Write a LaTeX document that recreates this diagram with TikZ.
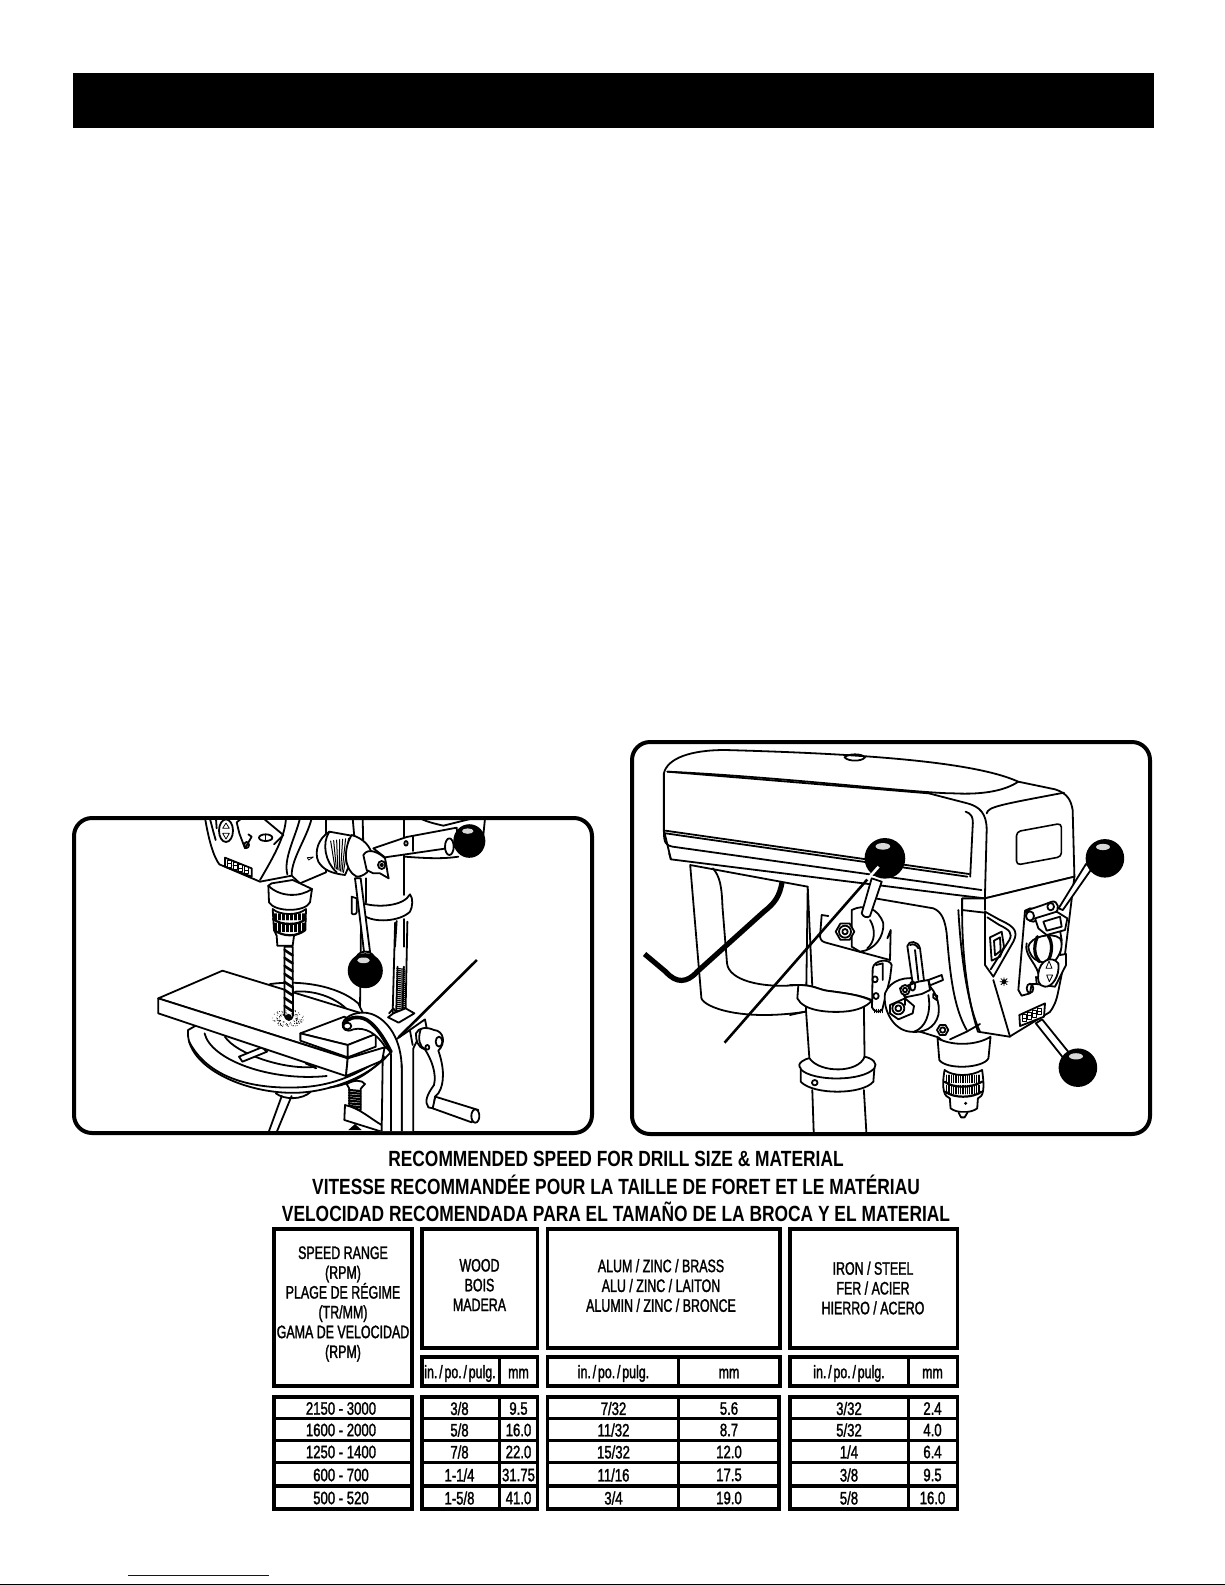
\documentclass[tikz,border=0pt]{standalone}
\usepackage{fontspec}
\setmainfont[FakeStretch=0.69,FakeBold=1.5]{Liberation Sans}
\newfontfamily\datafont[FakeStretch=0.73,FakeBold=1.5]{Liberation Sans}
\newfontfamily\titlefont[FakeStretch=0.79]{Liberation Sans Bold}
\tikzset{
  frameline/.style={line width=1.75pt,fill=white},
  dividerline/.style={line width=1.75pt},
  panelbox/.style={line width=2pt,rounded corners=9pt,fill=white},
  artline/.style={line width=0.9pt,line join=round,line cap=round},
  leaderline/.style={line width=1.3pt,line cap=butt},
  cell/.style={inner sep=0pt,font=\fontsize{9}{9.9}\selectfont,align=center},
  datacell/.style={inner sep=0pt,font=\datafont\fontsize{9}{9.9}\selectfont},
  titletext/.style={inner sep=0pt,font=\titlefont\fontsize{11}{12}\selectfont},
  hatch/.style={line width=0.4pt},
  knob/.style={fill=black},
  shine/.style={fill=white}
}
\newcommand{\knobat}[3]{%
  \fill[knob] (#1,#2) circle [x radius=#3,y radius=#3*1.05];
  \fill[shine,opacity=.85] (#1-#3*.1,#2-#3*.62) circle [x radius=#3*.36,y radius=#3*.17];
}
\newcommand{\hexnut}[3]{%
  \draw[fill=white] (#1+#3,#2)--(#1+.5*#3,#2-.866*#3)--(#1-.5*#3,#2-.866*#3)--(#1-#3,#2)--(#1-.5*#3,#2+.866*#3)--(#1+.5*#3,#2+.866*#3)--cycle;
}
\newcommand{\inpo}{in.\hspace{.9pt}/\hspace{.9pt}po.\hspace{.9pt}/\hspace{.9pt}pulg.}
\begin{document}
\begin{tikzpicture}[x=0.5pt,y=-0.5pt]
\useasboundingbox (0,0) rectangle (1225,1585);
\fill[white] (0,0) rectangle (1225,1585);
\fill[black] (73,73) rectangle (1153.5,128);
\draw[color=blue!75!black,line width=0.5pt] (128,1575) -- (269,1575);
\draw[black,line width=1pt] (0,1584.5) -- (1225,1584.5);

% ---------- left panel ----------
\draw[panelbox] (74,818) rectangle (592,1133);
\begin{scope}
\clip[rounded corners=8pt] (76,820) rectangle (590,1131);
% column, collar, head, chuck: crop coordinates (200,815)
\begin{scope}[shift={(200,815)},x=0.16667pt,y=-0.16667pt,artline]
 \draw (612,10)--(612,240);
 \draw (497,190)--(497,262);
 \draw (497,320)--(497,395);
 \draw (612,312)--(612,395);
 \draw (590,318)--(585,395);
 \draw[fill=white] (455,245) -- (455,295) .. controls (458,300) and (470,298) .. (470,292) -- (470,250) -- cycle;
 \draw[fill=white] (490,265) .. controls (530,278) and (610,275) .. (630,238) .. controls (640,250) and (638,275) .. (630,290) .. controls (600,320) and (520,325) .. (490,300) -- cycle;
 \draw (660,10) .. controls (680,20) and (700,25) .. (730,32) -- (810,12);
 \draw (855,10)--(850,60);
 \draw (615,125) .. controls (680,130) and (730,132) .. (775,125);
 % head
 \draw[fill=white] (15,8) .. controls (25,70) and (40,125) .. (58,148) -- (180,200) -- (275,182) -- (300,205) -- (378,172) -- (378,8) -- cycle;
 \draw (300,10) .. controls (285,70) and (250,130) .. (262,178);
 \draw (335,10) .. controls (320,70) and (275,130) .. (275,180);
 \draw (180,195) .. controls (230,110) and (255,60) .. (258,10);
 \draw (190,10) -- (250,60) -- (222,88);
 \draw (30,12) -- (40,50) -- (47,75);
 \draw (48,12) -- (50,40);
 \draw (125,10) -- (110,22) -- (118,55) -- (135,100) -- (155,65) -- (145,58);
 \draw (140,90) circle [x radius=7,y radius=9];
 \draw (78,47) circle [x radius=21,y radius=34];
 \draw[hatch] (68,40)--(78,24)--(88,40)--cycle (68,55)--(88,55)--(78,72)--cycle;
 \draw (197,68) circle [x radius=20,y radius=10];
 \draw[hatch] (197,58)--(197,78);
 \draw[line width=.9pt] (75,128)--(155,160)--(155,185)--(75,155)--cycle;
 \foreach \dd in {0,1,2,3} {\draw[hatch] (82+\dd*17,136+\dd*6.5) rectangle +(12,20);\draw[hatch] (82+\dd*17,146+\dd*6.5) -- +(12,0);}
 \draw[hatch] (322,128)--(340,126)--(326,135)--cycle;
 % chuck
 \draw[fill=white] (205,212) -- (207,262) .. controls (225,292) and (315,292) .. (330,262) -- (336,222) -- (300,205) -- (278,195) -- (215,205) -- cycle;
 \draw (205,212) .. controls (240,247) and (300,247) .. (336,222);
 \draw[fill=white] (218,282) -- (222,345) -- (230,362) -- (232,392) -- (278,392) -- (282,362) -- (316,345) -- (318,282) .. controls (295,302) and (240,302) .. (218,282) -- cycle;
 \foreach \xx in {222,226,...,314} {\draw[hatch] (\xx,296)--(\xx,315) (\xx,324)--(\xx,350);}
 \draw[line width=1.1pt] (219,312) .. controls (245,332) and (295,332) .. (317,312);
 \draw[line width=1.1pt] (222,345) .. controls (250,366) and (290,366) .. (316,345);
\end{scope}
% table, board, bit: crop coordinates (60,800)
\begin{scope}[shift={(60,800)},x=0.17544pt,y=-0.16667pt,artline]
 \draw[fill=white] (938,640) -- (950,625) -- (960,640);
 \foreach \yy in {505,511,...,637} {\draw[hatch,line width=.6pt] (960,\yy)--(982,\yy+3);}
 \draw (962,500)--(958,640);
 \draw (980,500)--(976,640);
 \draw (955,368)--(948,640);
 \draw (990,365)--(985,625);
 \draw (858,360)--(855,625);
 \draw[fill=white] (935,652) -- (950,640) -- (985,625) -- (1010,640) -- (965,668) -- cycle;
 % chuck nose and table
 \draw (595,995)--(632,888);
 \draw (618,995)--(660,888);
 \draw (615,880) .. controls (640,900) and (690,900) .. (715,875);
 \draw[fill=white] (365,690) .. controls (355,800) and (530,885) .. (680,878) .. controls (780,873) and (880,825) .. (925,775) -- (850,610) .. controls (790,555) and (680,540) .. (600,552) -- cycle;
 \draw (368,725) .. controls (420,830) and (540,868) .. (680,862) .. controls (790,858) and (870,810) .. (920,770);
 \draw (412,700) .. controls (430,780) and (600,845) .. (760,828);
 \draw (470,710) .. controls (500,760) and (640,812) .. (730,800);
 \draw[fill=white] (510,770)--(575,742)--(590,755)--(520,785)--cycle;
 \draw (670,575) .. controls (720,570) and (780,590) .. (815,625);
 \draw (700,790) -- (730,805);
 % board
 \draw[fill=white] (280,595)--(463,512)--(860,640)--(930,742)--(820,775)--cycle;
 \draw[fill=white] (280,595)--(280,640)--(815,828)--(820,775)--cycle;
 \draw[fill=white] (820,775)--(925,742)--(918,782)--(815,828)--cycle;
 % drill bit
 \draw[fill=white] (640,440)--(640,645) .. controls (645,665) and (660,665) .. (664,645) -- (663,440)--cycle;
 \foreach \yy in {450,474,...,630} {\draw[line width=1.3pt] (640,\yy)--(663,\yy+16);}
 \fill (651,650) circle [x radius=9,y radius=8];
 \pgfmathsetseed{7}
 \foreach \k in {1,...,110} {
   \pgfmathsetmacro{\ang}{rnd*360}\pgfmathsetmacro{\rr}{0.45+0.55*rnd}
   \fill (650+46*\rr*cos \ang,655+26*\rr*sin \ang) circle [x radius=1.4,y radius=1.4];
 }
 % wood block
 \draw[fill=white] (685,700)--(810,650)--(905,700)--(820,735)--cycle;
 \draw[fill=white] (685,700)--(685,722)--(820,772)--(820,735)--cycle;
 \draw[fill=white] (820,735)--(900,702)--(900,740)--(820,772)--cycle;
\end{scope}
% clamp and crank: crop coordinates (330,990)
\begin{scope}[shift={(330,990)},x=0.16667pt,y=-0.16667pt,artline]
 % screw
 \draw[fill=white] (50,282) .. controls (70,270) and (95,268) .. (105,282) -- (92,296) -- (92,360) -- (58,350) -- (58,296) -- cycle;
 \foreach \yy in {300,308,...,352} {\draw[line width=1.1pt] (57,\yy)--(91,\yy+3);}
 \draw[fill=white] (45,345) -- (43,390) -- (155,425) -- (155,405) .. controls (120,385) and (90,355) .. (45,345) -- cycle;
 \fill (55,420) -- (75,402) -- (95,420) -- cycle;
 % bracket
 \draw[fill=white] (215,430) -- (215,225) -- (195,150) -- (225,130) -- (285,88) -- (292,125) -- (262,150) -- (250,175) -- (250,430) -- cycle;
 \draw (240,122) -- (248,165);
 % crank
 \draw[fill=white] (258,130) .. controls (265,112) and (290,110) .. (312,120) .. controls (342,122) and (348,160) .. (325,182) .. controls (342,230) and (345,280) .. (325,310) -- (315,320) -- (310,355) -- (295,352) .. controls (282,335) and (292,312) .. (312,285) .. controls (320,250) and (305,210) .. (285,178) .. controls (260,170) and (258,150) .. (258,130) -- cycle;
 \draw (272,118) .. controls (262,150) and (270,170) .. (285,178);
 \draw (327,155) circle [x radius=10,y radius=15];
 \draw (292,172) circle [x radius=6,y radius=7];
 \draw[fill=white] (316,320)--(445,360)--(425,397)--(308,355)--cycle;
 \draw[fill=white] (436,378) circle [x radius=12,y radius=20];
 % clamp
 \draw[fill=white] (155,430) -- (158,212) -- (183,186) -- (165,170) .. controls (140,130) and (105,110) .. (70,118) .. controls (50,128) and (35,118) .. (38,100) .. controls (45,75) and (90,60) .. (125,72) .. controls (175,90) and (215,150) .. (215,235) -- (215,430) -- cycle;
 \draw (182,192) -- (182,430);
 \draw[line width=1.8pt] (42,100) .. controls (52,85) and (75,78) .. (100,85) .. controls (130,95) and (160,140) .. (183,186);
 \draw[fill=white] (52,108) circle [x radius=12,y radius=10];
 \draw (0,292) .. controls (60,285) and (120,250) .. (160,205);
\end{scope}
% hub and levers: crop coordinates (200,815)
\begin{scope}[shift={(200,815)},x=0.16667pt,y=-0.16667pt,artline]
 \draw (458,10)--(466,100);
 \draw (488,10)--(490,100);
 \draw[fill=white] (465,190)--(492,410)--(510,410)--(482,190)--cycle;
 % drum
 \draw[fill=white] (388,50) .. controls (355,70) and (342,110) .. (355,140) .. controls (370,165) and (395,175) .. (435,180) -- (470,100) -- (455,62) -- cycle;
 \foreach \aa in {0,14,...,90} {\draw[hatch,line width=.5pt] (392+\aa*.64,78-\aa*.1) -- (405+\aa*.3,160+\aa*.15);}
 \draw (388,50) .. controls (365,85) and (375,140) .. (410,172);
 \draw[fill=white] (455,60) .. controls (430,100) and (430,165) .. (470,185) .. controls (490,185) and (515,170) .. (518,130) .. controls (515,95) and (490,70) .. (455,60) -- cycle;
 % upper lever
 \draw[fill=white] (520,100)--(620,66)--(770,38)--(775,95)--(555,127)--cycle;
 \draw (640,65)--(640,108);
 \draw (618,85) circle [x radius=5,y radius=7];
 \draw[fill=white] (748,95) circle [x radius=13,y radius=25];
 \draw[fill=white] (490,120) .. controls (505,95) and (540,115) .. (555,130) .. controls (560,150) and (562,175) .. (566,190) -- (540,175) -- (520,175) -- (500,165) -- cycle;
 \draw[fill=white] (545,150) circle [x radius=11,y radius=12];
 \draw (545,150) circle [x radius=4,y radius=4];
 \knobat{808}{78}{48}
\end{scope}
\begin{scope}[shift={(60,800)},x=0.17544pt,y=-0.16667pt,artline]
 \draw[fill=white] (845,470) .. controls (855,450) and (885,450) .. (895,470) -- (885,490) -- (855,490) -- cycle;
 \knobat{870}{512}{50}
 \draw[leaderline] (1188,480) -- (965,712);
\end{scope}
\end{scope}

% ---------- right panel ----------
\draw[panelbox] (632,742) rectangle (1150,1134);
\begin{scope}
\clip[rounded corners=8pt] (634,744) rectangle (1148,1132);
\begin{scope}[shift={(620,730)},x=0.17544pt,y=-0.16667pt,artline]
 % column and collar
 \draw (548,1080)--(552,1205);
 \draw (695,1080)--(702,1205);
 \draw (530,840)--(540,990);
 \draw (695,825)--(697,985);
 \draw[fill=white] (515,1015) .. controls (500,1000) and (530,985) .. (540,985) .. controls (570,1030) and (680,1030) .. (697,980) .. controls (720,985) and (735,1000) .. (725,1015) -- (722,1055) .. controls (690,1095) and (550,1095) .. (515,1055) -- cycle;
 \draw (515,1018) .. controls (550,1055) and (690,1055) .. (725,1015);
 \draw (555,1058) circle [x radius=8,y radius=8];
 % lower housing
 \draw[fill=white] (200,405) -- (232,805) .. controls (240,830) and (340,875) .. (530,845) -- (535,470) -- cycle;
 \draw (265,415) .. controls (285,440) and (290,470) .. (292,530) -- (305,700) .. controls (310,750) and (400,775) .. (505,765);
 % cord
 \draw[line width=2.6pt,line cap=butt] (462,455) .. controls (455,500) and (440,520) .. (410,545) -- (220,725) .. controls (190,760) and (160,760) .. (130,725) -- (70,672);
 % casting
 \fill[white] (535,470) -- (880,525) -- (925,560) -- (990,880) -- (1010,895) -- (960,925) -- (760,900) -- (715,810) -- (548,770) -- cycle;
 \draw (535,470) -- (548,770);
 % hood
 \draw[fill=white] (125,130) .. controls (135,85) and (200,60) .. (300,60) .. controls (640,70) and (1000,90) .. (1135,155) -- (1240,178) .. controls (1275,190) and (1285,210) .. (1290,240) -- (1295,440) -- (1040,505) -- (960,495) -- (145,388) -- (125,300) -- cycle;
 \draw (135,125) .. controls (450,140) and (850,190) .. (950,190) .. controls (1040,195) and (1100,180) .. (1135,155);
 \draw (135,125) -- (880,190) -- (990,220) .. controls (1025,230) and (1045,250) .. (1045,300) -- (1040,500);
 \draw (1045,250) .. controls (1050,230) and (1080,225) .. (1265,188) ;
 \draw (985,245) .. controls (1000,250) and (1008,260) .. (1005,290) -- (998,440);
 \draw (640,82) .. controls (650,70) and (690,70) .. (698,82) .. controls (690,95) and (650,95) .. (640,82) -- cycle;
 \draw (125,300) .. controls (125,340) and (130,345) .. (150,350) -- (1030,480);
 \draw (130,302) -- (995,432);
 \draw (130,310) -- (990,440);
 \draw (140,370) -- (145,388);
 \draw[rounded corners=2pt,line width=.8pt] (1130,305)--(1258,280)--(1258,380)--(1130,405)--cycle;
 % side of the head
 \draw[fill=white] (975,505) -- (975,545) .. controls (975,650) and (985,790) .. (1020,905) -- (1110,920) -- (1225,846) .. controls (1240,825) and (1245,805) .. (1248,789) -- (1265,700) -- (1295,440) -- (1040,505) -- cycle;
 \draw (975,540)--(1040,548);
 \draw (1040,505)--(1040,540);
\end{scope}
% carriage details: crop coordinates (790,900)
\begin{scope}[shift={(790,900)},x=0.16667pt,y=-0.16667pt,artline]
 \draw (255,-5) -- (430,25) .. controls (455,35) and (465,60) .. (470,100) .. controls (480,220) and (490,320) .. (530,390);
 \draw (505,30) .. controls (510,120) and (525,300) .. (570,395);
 \draw (0,255)--(25,255) .. controls (70,255) and (85,268) .. (110,272) .. controls (170,280) and (210,285) .. (245,300);
 \draw[fill=white] (25,255) -- (22,295) .. controls (40,332) and (110,338) .. (160,335) .. controls (205,332) and (232,318) .. (245,302) .. controls (210,285) and (170,280) .. (110,272) .. controls (85,268) and (70,255) .. (25,255) -- cycle;
 \draw (0,345)--(45,335);
 % plate
 \draw (115,48) -- (95,45) -- (90,110) .. controls (92,122) and (98,125) .. (108,128) -- (300,180) -- (302,90) -- (292,115);
 % upper hub
 \draw[fill=white] (185,30) .. controls (225,10) and (265,25) .. (280,70) .. controls (282,110) and (255,150) .. (210,155) -- (185,140) -- cycle;
 \draw (240,60) .. controls (258,90) and (255,125) .. (232,145);
 \hexnut{165}{95}{28}
 \draw (165,95) circle [x radius=18,y radius=18];
 \draw (165,95) circle [x radius=8,y radius=8];
 \draw[fill=white] (215,40)--(245,-65)--(275,-55)--(240,48) .. controls (232,55) and (220,52) .. (215,40) -- cycle;
 % lock
 \draw[fill=white] (248,205) .. controls (252,178) and (300,175) .. (305,195) -- (300,235) -- (277,328) .. controls (270,340) and (250,335) .. (246,322) -- cycle;
 \draw (258,195) -- (278,190) -- (278,240);
 \draw (255,238) circle [x radius=8,y radius=9];
 \draw (258,288) circle [x radius=8,y radius=9];
 \foreach \xx in {252,258,...,276} {\draw[hatch] (\xx,328)--(\xx,338);}
 % hub
 \draw[fill=white] (285,280) .. controls (300,240) and (350,225) .. (395,240) .. controls (435,260) and (452,310) .. (445,345) .. controls (435,385) and (400,400) .. (360,395) .. controls (310,390) and (278,330) .. (285,280) -- cycle;
 \draw (415,285) .. controls (425,340) and (405,385) .. (372,395);
 \draw (430,282)--(442,288)--(440,300)--(430,293)--cycle;
 % short lever
 \draw[fill=white] (352,138) .. controls (355,120) and (385,122) .. (390,145) -- (402,242) -- (368,250) -- cycle;
 \draw (375,150)--(385,240);
 \draw (360,135) .. controls (370,130) and (380,135) .. (385,145);
 \draw[fill=white] (415,240)--(455,225)--(459,240)--(420,256)--cycle;
 \draw[fill=white] (330,265)--(385,245)--(415,240)--(420,270)--(395,282)--(345,292)--cycle;
 \draw[fill=white] (345,270) circle [x radius=14,y radius=15];
 \draw (345,270) circle [x radius=6,y radius=7];
 \draw (368,258) circle [x radius=8,y radius=14];
 % front nut
 \draw[fill=white] (300,315)--(345,295)--(372,318)--(368,340)--(325,358)--(300,340)--cycle;
 \draw (325,325) circle [x radius=18,y radius=18];
 \draw (325,325) circle [x radius=9,y radius=9];
 \draw (345,295) -- (345,315);
 \hexnut{458}{390}{17}
 \draw (458,390) circle [x radius=8,y radius=8];
 \draw (390,395) -- (445,412) .. controls (470,440) and (530,440) .. (570,430);
 \draw (480,418)--(530,395)--(570,372);
\end{scope}
\begin{scope}[shift={(620,730)},x=0.17544pt,y=-0.16667pt,artline]
 % chuck
 \draw[fill=white] (905,925) -- (910,990) .. controls (930,1020) and (1035,1015) .. (1050,985) -- (1056,920) .. controls (1020,945) and (950,950) .. (905,925) -- cycle;
 \draw[fill=white] (925,1020) .. controls (915,1080) and (925,1100) .. (940,1105) -- (942,1135) .. controls (960,1150) and (1000,1150) .. (1018,1135) -- (1020,1105) .. controls (1035,1100) and (1040,1080) .. (1032,1020) .. controls (1000,1040) and (950,1040) .. (925,1020) -- cycle;
 \foreach \xx in {930,935,...,1028} {\draw[hatch] (\xx,1035)--(\xx,1058) (\xx,1066)--(\xx,1092);}
 \draw[line width=1.1pt] (925,1055) .. controls (950,1075) and (1000,1075) .. (1032,1055);
 \draw[line width=1.1pt] (928,1085) .. controls (950,1105) and (1005,1105) .. (1030,1085);
 \draw[fill=white] (965,1148) -- (972,1162) -- (982,1162) -- (990,1148);
 \fill (985,1120) circle [x radius=5,y radius=5];
\end{scope}
% controls: crop coordinates (980,880)
\begin{scope}[shift={(980,880)},x=0.16667pt,y=-0.16667pt,artline]
 \draw[fill=white] (15,95) -- (60,120) .. controls (105,140) and (115,155) .. (100,185) -- (40,290) -- (15,255) -- cycle;
 \draw (22,112) -- (58,135) .. controls (90,150) and (98,160) .. (88,180) -- (32,268);
 \draw (30,172)--(65,155)--(72,200)--(60,230)--(35,242)--cycle;
 \draw (42,182)--(60,172)--(62,212)--(45,226)--cycle;
 \draw[hatch] (72,293)--(72,317) (60,305)--(84,305) (63,296)--(81,314) (81,296)--(63,314);
 \draw[fill=white] (72,305) circle [x radius=5,y radius=5];
 \draw (40,300) -- (90,470);
 % display
 \draw[line width=.9pt,fill=white] (118,405)--(195,370)--(192,410)--(120,438)--cycle;
 \foreach \dd in {0,1,2,3} {\draw[hatch] (127+\dd*15,404-\dd*6.5) rectangle +(11,20);\draw[hatch] (127+\dd*15,414-\dd*6.5) -- +(11,0);}
 % plate
 \draw[fill=white] (135,92) -- (115,330) -- (125,347) -- (150,340) -- (155,312) -- (170,312) -- (225,320) -- (258,255) -- (258,222) -- (240,225) -- (245,180) -- (230,95) -- (150,85) -- cycle;
 \draw (150,325) circle [x radius=10,y radius=14];
 \draw[fill=white] (140,95) .. controls (150,85) and (165,85) .. (215,65) .. controls (235,60) and (240,90) .. (225,100) -- (160,125) .. controls (145,125) and (135,110) .. (140,95) -- cycle;
 \draw[fill=white] (150,108) circle [x radius=12,y radius=14];
 \draw[fill=white] (212,80) circle [x radius=10,y radius=11];
 \draw[fill=white] (165,115)--(230,95)--(262,115)--(255,150)--(200,165)--(175,145)--cycle;
 \draw[fill=white] (190,125)--(240,110)--(245,140)--(200,152)--cycle;
 \draw[fill=white] (145,200) .. controls (150,170) and (215,155) .. (240,175) .. controls (252,195) and (240,225) .. (225,242) .. controls (190,255) and (150,245) .. (145,200) -- cycle;
 \draw[line width=1.6pt] (172,170) .. controls (158,205) and (165,230) .. (178,245);
 \draw[line width=1.6pt] (205,168) .. controls (220,190) and (215,225) .. (205,240);
 \draw (140,190) .. controls (132,225) and (165,245) .. (175,280);
 \draw[fill=white] (175,280) .. controls (180,240) and (215,225) .. (235,250) .. controls (240,290) and (215,322) .. (195,320) .. controls (175,318) and (172,300) .. (175,280) -- cycle;
 \draw[hatch] (198,265)--(207,243)--(216,265)--cycle (200,285)--(218,285)--(208,305)--cycle;
 \draw (168,290) -- (170,312);
\end{scope}
\begin{scope}[shift={(620,730)},x=0.17544pt,y=-0.16667pt,artline]
 \draw[fill=white] (1250,535) -- (1328,402) -- (1345,415) -- (1262,540) -- cycle;
 \draw[fill=white] (1185,880) -- (1203,868) -- (1285,975) -- (1268,990) -- cycle;
 \knobat{1382}{385}{55}
 \knobat{1305}{1013}{55}
 \knobat{755}{385}{58}
 \draw[leaderline] (705,448) -- (298,938);
 \draw[line width=1.3pt,color=white,line cap=butt] (737,410) -- (705,448);
\end{scope}
\end{scope}

% ---------- table ----------
\node[titletext] (title1) at (616,1159) {RECOMMENDED SPEED FOR DRILL SIZE \& MATERIAL};
\node[titletext] (title2) at (616,1185) {VITESSE RECOMMANDÉE POUR LA TAILLE DE FORET ET LE MATÉRIAU};
\node[titletext] (title3) at (616,1212) {VELOCIDAD RECOMENDADA PARA EL TAMAÑO DE LA BROCA Y EL MATERIAL};
\draw[frameline] (274,1229) rectangle (412,1386);
\draw[frameline] (422,1229) rectangle (537.5,1348);
\draw[frameline] (547.5,1229) rectangle (780,1348);
\draw[frameline] (790,1229) rectangle (957.5,1348);
\draw[frameline] (422,1357) rectangle (537.5,1386);
\draw[frameline] (547.5,1357) rectangle (780,1386);
\draw[frameline] (790,1357) rectangle (957.5,1386);
\draw[dividerline] (499.5,1357) -- (499.5,1386);
\draw[dividerline] (678.5,1357) -- (678.5,1386);
\draw[dividerline] (908.5,1359) -- (908.5,1386);
\draw[frameline] (274,1397) rectangle (412,1509);
\draw[frameline] (422,1397) rectangle (537.5,1509);
\draw[frameline] (547.5,1397) rectangle (779,1509);
\draw[frameline] (790,1397) rectangle (957.5,1509);
\foreach \dy in {1418.5,1440.5,1462.5,1486} {
  \draw[dividerline] (274,\dy) -- (412,\dy);
  \draw[dividerline] (422,\dy) -- (537.5,\dy);
  \draw[dividerline] (547.5,\dy) -- (779,\dy);
  \draw[dividerline] (790,\dy) -- (957.5,\dy);
}
\draw[dividerline] (499.5,1397) -- (499.5,1509);
\draw[dividerline] (678.5,1397) -- (678.5,1509);
\draw[dividerline] (908.5,1397) -- (908.5,1509);
\node[cell] (hspeed) at (343,1304) {SPEED RANGE\\(RPM)\\PLAGE DE RÉGIME\\(TR/MM)\\GAMA DE VELOCIDAD\\(RPM)};
\node[cell] (hwood) at (479.5,1285) {WOOD\\BOIS\\MADERA};
\node[cell] (halum) at (661,1285.5) {ALUM / ZINC / BRASS\\ALU / ZINC / LAITON\\ALUMIN / ZINC / BRONCE};
\node[cell] (hiron) at (873,1288) {IRON / STEEL\\FER / ACIER\\HIERRO / ACERO};
\node[cell] (s1) at (460,1373.5) {\inpo};
\node[cell] (s2) at (518.5,1373.5) {mm};
\node[cell] (s3) at (613.5,1373.5) {\inpo};
\node[cell] (s4) at (729,1373.5) {mm};
\node[cell] (s5) at (849,1373.5) {\inpo};
\node[cell] (s6) at (932.5,1373.5) {mm};
\foreach \ry/\sp/\wa/\wb/\aa/\ab/\ia/\ib in {
 1408.5/2150 - 3000/3\slash 8/9.5/7\slash 32/5.6/3\slash 32/2.4,
 1430/1600 - 2000/5\slash 8/16.0/11\slash 32/8.7/5\slash 32/4.0,
 1452/1250 - 1400/7\slash 8/22.0/15\slash 32/12.0/1\slash 4/6.4,
 1475/600 - 700/1-1\slash 4/31.75/11\slash 16/17.5/3\slash 8/9.5,
 1498/500 - 520/1-5\slash 8/41.0/3\slash 4/19.0/5\slash 8/16.0} {
  \node[datacell] (d\ry a) at (341,\ry) {\sp};
  \node[datacell] (d\ry b) at (459.5,\ry) {\wa};
  \node[datacell] (d\ry c) at (518.5,\ry) {\wb};
  \node[datacell] (d\ry d) at (613.5,\ry) {\aa};
  \node[datacell] (d\ry e) at (729,\ry) {\ab};
  \node[datacell] (d\ry f) at (849,\ry) {\ia};
  \node[datacell] (d\ry g) at (932.5,\ry) {\ib};
}
\end{tikzpicture}
\end{document}
